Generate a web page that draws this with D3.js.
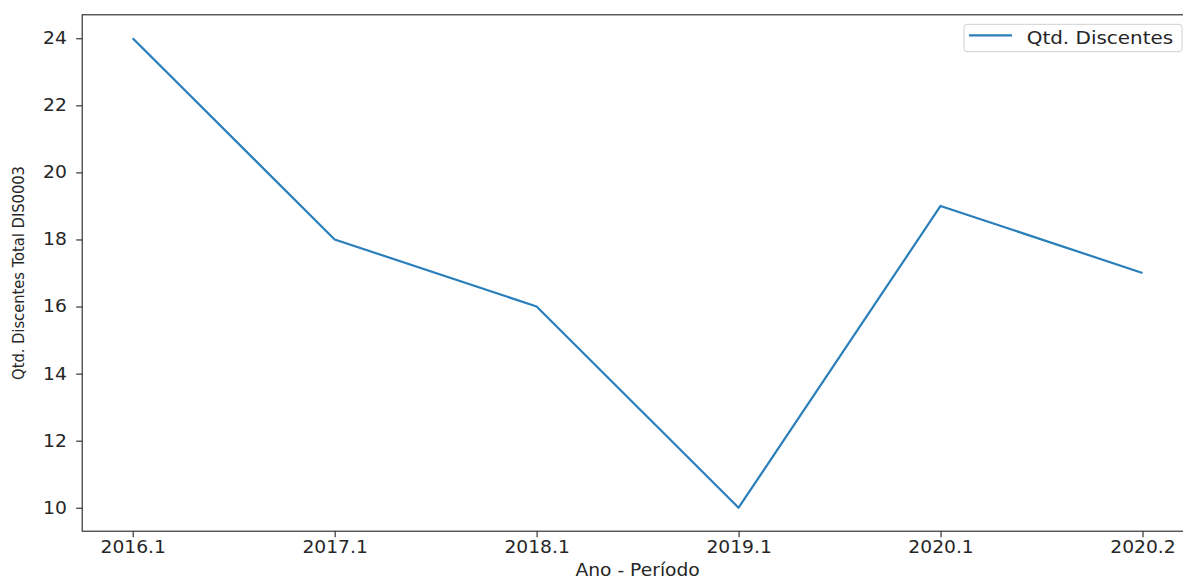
<!DOCTYPE html>
<html>
  <head>
    <meta charset="UTF-8">
    <title>Qtd. Discentes DIS0003</title>
    <style>
      body { margin: 0; background: #fff; }
      svg { display: block; }
      text { font-family: "DejaVu Sans", sans-serif; fill: #262626; }
    </style>
  </head>
  <body>
    <div id="chart"></div>
    <script src="https://d3js.org/d3.v7.min.js"></script>
    <script>

// data
var periods = ["2016.1", "2017.1", "2018.1", "2019.1", "2020.1", "2020.2"];
var discentes = [24, 18, 16, 10, 19, 17];
var yTicks = [10, 12, 14, 16, 18, 20, 22, 24];

var W = 1183, H = 579;
var plot = { left: 82.2, right: 1193, top: 14.8, bottom: 531.2 };
var sx = 1.1; // the reference is a bit stretched sideways

var svg = d3.select("#chart").append("svg")
  .attr("width", W)
  .attr("height", H);

// matplotlib-like 5% margins on x
var x = d3.scaleLinear()
  .domain([-0.25, periods.length - 0.75])
  .range([plot.left, plot.right]);

var y = d3.scaleLinear()
  .domain([9.3, 24.7])
  .range([plot.bottom, plot.top]);

// x axis
var xAxis = d3.axisBottom(x)
  .tickValues(d3.range(periods.length))
  .tickFormat(function(i){ return periods[i]; })
  .tickSize(6)
  .tickSizeOuter(0)
  .tickPadding(4);

var gx = svg.append("g")
  .attr("transform", "translate(0," + plot.bottom + ")")
  .call(xAxis);
gx.select(".domain").remove();
gx.selectAll(".tick line").attr("stroke", "#222").attr("stroke-width", 1.1);
gx.selectAll(".tick text")
  .attr("font-size", 17)
  .attr("fill", "#262626")
  .attr("transform", "scale(" + sx + ",1)");

// y axis
var yAxis = d3.axisLeft(y)
  .tickValues(yTicks)
  .tickSize(6)
  .tickSizeOuter(0)
  .tickPadding(8);

var gy = svg.append("g")
  .attr("transform", "translate(" + plot.left + ",0)")
  .call(yAxis);
gy.select(".domain").remove();
gy.selectAll(".tick line").attr("stroke", "#222").attr("stroke-width", 1.1);
gy.selectAll(".tick text")
  .attr("font-size", 17)
  .attr("fill", "#262626")
  .attr("transform", "scale(" + sx + ",1)");

// frame
svg.append("rect")
  .attr("x", plot.left)
  .attr("y", plot.top)
  .attr("width", plot.right - plot.left)
  .attr("height", plot.bottom - plot.top)
  .attr("fill", "none")
  .attr("stroke", "#222")
  .attr("stroke-width", 1.1);

// the line
var line = d3.line()
  .x(function(d, i){ return x(i); })
  .y(function(d){ return y(d); });

svg.append("path")
  .datum(discentes)
  .attr("d", line)
  .attr("fill", "none")
  .attr("stroke", "#2a7fbb")
  .attr("stroke-width", 2.2)
  .attr("stroke-linejoin", "round");

// axis labels
svg.append("text")
  .attr("transform", "translate(" + ((plot.left + plot.right) / 2) + ",575.5) scale(" + sx + ",1)")
  .attr("text-anchor", "middle")
  .attr("font-size", 17)
  .text("Ano - Período");

svg.append("text")
  .attr("transform", "translate(24," + ((plot.top + plot.bottom) / 2) + ") scale(" + sx + ",1) rotate(-90)")
  .attr("text-anchor", "middle")
  .attr("font-size", 14.7)
  .text("Qtd. Discentes Total DIS0003");

// legend
var lg = svg.append("g").attr("transform", "translate(964,24.3)");
lg.append("rect")
  .attr("width", 218)
  .attr("height", 27.4)
  .attr("rx", 3)
  .attr("fill", "#fff")
  .attr("fill-opacity", 0.8)
  .attr("stroke", "#d0d0d0")
  .attr("stroke-width", 1);
lg.append("line")
  .attr("x1", 5).attr("x2", 48)
  .attr("y1", 11).attr("y2", 11)
  .attr("stroke", "#2a7fbb")
  .attr("stroke-width", 2.2);
lg.append("text")
  .attr("transform", "translate(62.7,19.2) scale(1.14,1)")
  .attr("font-size", 17.5)
  .text("Qtd. Discentes");

    </script>
  </body>
</html>
